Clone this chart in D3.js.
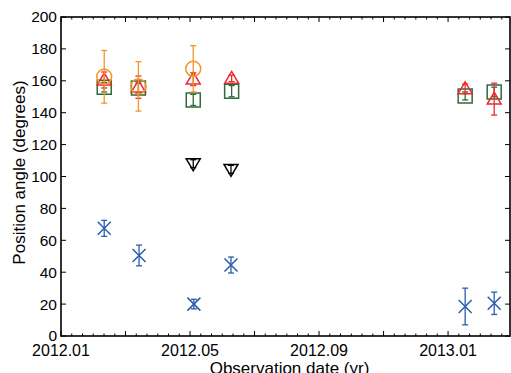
<!DOCTYPE html>
<html>
<head>
<meta charset="utf-8">
<script src="https://cdn.jsdelivr.net/npm/d3@7"></script>
<style>
  html, body { margin: 0; padding: 0; background: #fff; }
  svg { display: block; font-family: "Liberation Sans", Arial, sans-serif; }
</style>
</head>
<body>
<div id="chart"></div>
<script>
// x values are months since 2012.01 (0 = Jan 2012)
const tickLabels = ["2012.01", "2012.05", "2012.09", "2013.01"];
const tickMonths = [0, 4, 8, 12];

const blueX = [1.34, 2.42, 4.12, 5.27, 12.53, 13.43];
const blueY = [67.5, 50.5, 20, 44.5, 18.5, 20.5];
const blueErr = [5, 6.5, 3, 5, 11.5, 7];

const blackX = [4.1, 5.27];
const blackY = [108, 104.5];
const blackErr = [2.5, 2.5];

const greenX = [1.34, 2.4, 4.1, 5.29, 12.53, 13.43];
const greenY = [156, 155.5, 148, 153.5, 150.5, 153];
const greenErr = [3, 3, 3.5, 3.5, 2.5, 3];

const redX = [1.34, 2.4, 4.1, 5.29, 12.53, 13.43];
const redY = [160.5, 156, 161, 161.5, 155, 148.5];
const redErr = [5, 7, 4, 2, 3, 10];

const orangeX = [1.34, 2.4, 4.1];
const orangeY = [162.5, 156.5, 167.5];
const orangeErr = [16.5, 15.5, 14.5];

const W = 511, H = 373;
const margin = { left: 61, right: 1, top: 17, bottom: 37 };

const svg = d3.select("#chart").append("svg")
  .attr("width", W).attr("height", H);

const x = d3.scaleLinear().domain([0, 13.92]).range([margin.left, W - margin.right]);
const y = d3.scaleLinear().domain([0, 200]).range([H - margin.bottom, margin.top]);

const x0 = x.range()[0], x1 = x.range()[1], y0 = y.range()[0], y1 = y.range()[1];

// --- Ticks (inward) ---
const axisG = svg.append("g").attr("stroke", "#000");
const minorX = d3.range(0, 13.92, 1 / 3);
minorX.forEach(m => {
  const isMajor = Math.abs(m / 2 - Math.round(m / 2)) < 1e-6;
  const len = isMajor ? 5 : 2.5;
  axisG.append("line").attr("x1", x(m)).attr("x2", x(m))
    .attr("y1", y0).attr("y2", y0 - len).attr("stroke-width", 1);
  axisG.append("line").attr("x1", x(m)).attr("x2", x(m))
    .attr("y1", y1).attr("y2", y1 + len).attr("stroke-width", 1);
});
d3.range(0, 201, 20).forEach(v => {
  axisG.append("line").attr("x1", x0).attr("x2", x0 + 5)
    .attr("y1", y(v)).attr("y2", y(v)).attr("stroke-width", 1);
  axisG.append("line").attr("x1", x1).attr("x2", x1 - 5)
    .attr("y1", y(v)).attr("y2", y(v)).attr("stroke-width", 1);
});

// frame
svg.append("rect")
  .attr("x", x0).attr("y", y1)
  .attr("width", x1 - x0).attr("height", y0 - y1)
  .attr("fill", "none").attr("stroke", "#000").attr("stroke-width", 1.6);

// tick labels
tickMonths.forEach((m, i) => {
  svg.append("text").attr("x", x(m)).attr("y", 355.5)
    .attr("text-anchor", "middle").attr("font-size", 16)
    .text(tickLabels[i]);
});
d3.range(0, 201, 20).forEach(v => {
  svg.append("text").attr("x", x0 - 4).attr("y", y(v))
    .attr("dy", "0.35em").attr("text-anchor", "end").attr("font-size", 15.5)
    .text(v);
});

svg.append("text").attr("x", (x0 + x1) / 2 + 4).attr("y", 374)
  .attr("text-anchor", "middle").attr("font-size", 17)
  .text("Observation date (yr)");
svg.append("text")
  .attr("transform", `translate(25,${(y0 + y1) / 2 - 4}) rotate(-90)`)
  .attr("text-anchor", "middle").attr("font-size", 17)
  .text("Position angle (degrees)");

// --- Series ---
function errBars(g, xs, ys, es, color) {
  xs.forEach((xv, i) => {
    const cx = x(xv);
    const ya = y(ys[i] + es[i]), yb = y(ys[i] - es[i]);
    g.append("line").attr("x1", cx).attr("x2", cx).attr("y1", ya).attr("y2", yb)
      .attr("stroke", color).attr("stroke-width", 1.3);
    [ya, yb].forEach(yy => g.append("line")
      .attr("x1", cx - 3).attr("x2", cx + 3).attr("y1", yy).attr("y2", yy)
      .attr("stroke", color).attr("stroke-width", 1.3));
  });
}

function markers(g, xs, ys, color, type) {
  xs.forEach((xv, i) => {
    const cx = x(xv), cy = y(ys[i]);
    let path;
    if (type === "x") {
      const s = 6.5;
      path = `M${cx - s},${cy - s}L${cx + s},${cy + s}M${cx - s},${cy + s}L${cx + s},${cy - s}`;
    } else if (type === "square") {
      const s = 7;
      path = `M${cx - s},${cy - s}H${cx + s}V${cy + s}H${cx - s}Z`;
    } else if (type === "up") {
      const s = 7;
      path = `M${cx},${cy - s}L${cx + s},${cy + s * 0.7}L${cx - s},${cy + s * 0.7}Z`;
    } else if (type === "down") {
      const s = 7;
      path = `M${cx},${cy + s}L${cx + s},${cy - s * 0.7}L${cx - s},${cy - s * 0.7}Z`;
    }
    if (type === "circle") {
      g.append("circle").attr("cx", cx).attr("cy", cy).attr("r", 7.5)
        .attr("fill", "none").attr("stroke", color).attr("stroke-width", 1.5);
    } else {
      g.append("path").attr("d", path)
        .attr("fill", "none").attr("stroke", color).attr("stroke-width", 1.5);
    }
  });
}

const blue = "#2b5cad", black = "#000", green = "#2e6b3a", red = "#ec2a2e", orange = "#f1962b";

const gBlue = svg.append("g");
errBars(gBlue, blueX, blueY, blueErr, blue);
markers(gBlue, blueX, blueY, blue, "x");

const gBlack = svg.append("g");
errBars(gBlack, blackX, blackY, blackErr, black);
markers(gBlack, blackX, blackY, black, "down");

const gGreen = svg.append("g");
errBars(gGreen, greenX, greenY, greenErr, green);
markers(gGreen, greenX, greenY, green, "square");

const gRed = svg.append("g");
errBars(gRed, redX, redY, redErr, red);
markers(gRed, redX, redY, red, "up");

const gOrange = svg.append("g");
errBars(gOrange, orangeX, orangeY, orangeErr, orange);
markers(gOrange, orangeX, orangeY, orange, "circle");
</script>
</body>
</html>
